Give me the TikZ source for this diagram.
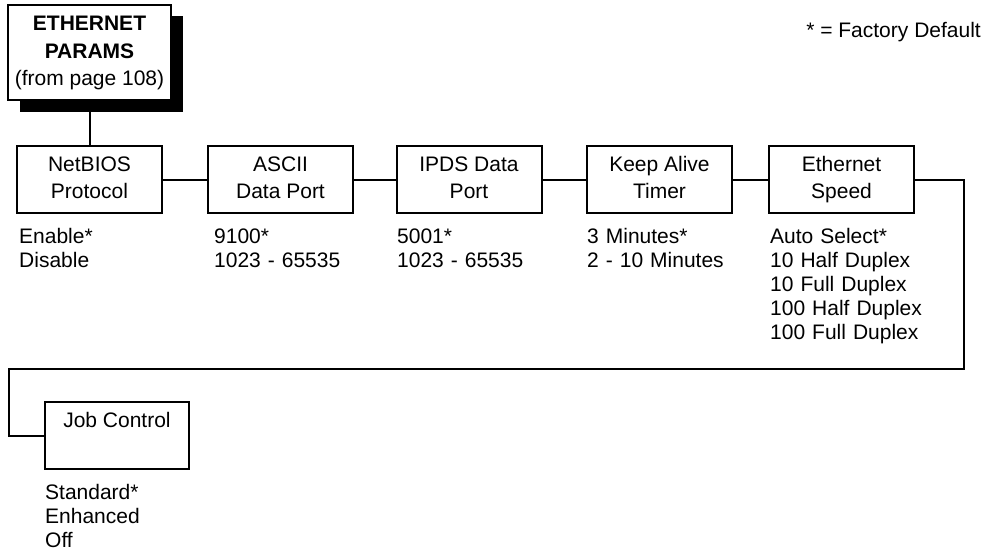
\documentclass[tikz,border=0pt]{standalone}
\usepackage{fontspec}
\setmainfont{Liberation Sans}
\begin{document}
\begin{tikzpicture}[x=1pt,y=-1pt,
  menubox/.style={draw,line width=2pt,minimum width=145pt,minimum height=67pt,inner sep=0pt,align=center,font=\fontsize{21}{27}\selectfont},
  titlebox/.style={draw,fill=white,line width=2pt,minimum width=163pt,minimum height=95pt,inner sep=0pt,align=center,font=\fontsize{21}{27.5}\selectfont},
  vals/.style={anchor=base west,inner sep=0pt,align=left,text width=200pt,font=\fontsize{21}{24}\selectfont},
  conn/.style={line width=2pt}]
\useasboundingbox (0,0) rectangle (986,554);
% shadow of title box
\fill[black] (20,16) rectangle (183,112);
\node[titlebox] (title) at (89.5,52.5) {\strut\textbf{ETHERNET}\\\textbf{PARAMS}\\(from page 108)\strut};
\node[anchor=base east,inner sep=0pt,font=\fontsize{21}{24}\selectfont] (legend) at (981,37.5) {* = Factory Default};
% menu boxes
\node[menubox] (netbios) at (89.5,179.5) {\strut NetBIOS\\Protocol\strut};
\node[menubox] (ascii) at (280.5,179.5) {\strut ASCII\\Data Port\strut};
\node[menubox] (ipds) at (469,179.5) {\strut IPDS Data\\Port\strut};
\node[menubox] (keep) at (659.5,179.5) {\strut Keep Alive\\Timer\strut};
\node[menubox] (eth) at (841.5,179.5) {\strut Ethernet\\Speed\strut};
\node[menubox,minimum width=144pt] (job) at (117,435.5) {\strut Job Control\\\strut};
% values
\node[vals] (vnet) at (19,243.5) {Enable*\\Disable};
\node[vals] (vascii) at (214,243.5) {9100*\\1023 - 65535};
\node[vals] (vipds) at (397,243.5) {5001*\\1023 - 65535};
\node[vals] (vkeep) at (587,243.5) {3 Minutes*\\2 - 10 Minutes};
\node[vals] (veth) at (770,243.5) {Auto Select*\\10 Half Duplex\\10 Full Duplex\\100 Half Duplex\\100 Full Duplex};
\node[vals] (vjob) at (45,499.5) {Standard*\\Enhanced\\Off};
% connectors
\coordinate (r1) at (964,369);
\coordinate (l1) at (9,369);
\draw[conn] (title.south) -- (netbios.north);
\draw[conn] (netbios.east) -- (ascii.west);
\draw[conn] (ascii.east) -- (ipds.west);
\draw[conn] (ipds.east) -- (keep.west);
\draw[conn] (keep.east) -- (eth.west);
\draw[conn] (eth.east) -| (r1) -- (l1) |- (job.west);
\end{tikzpicture}
\end{document}
